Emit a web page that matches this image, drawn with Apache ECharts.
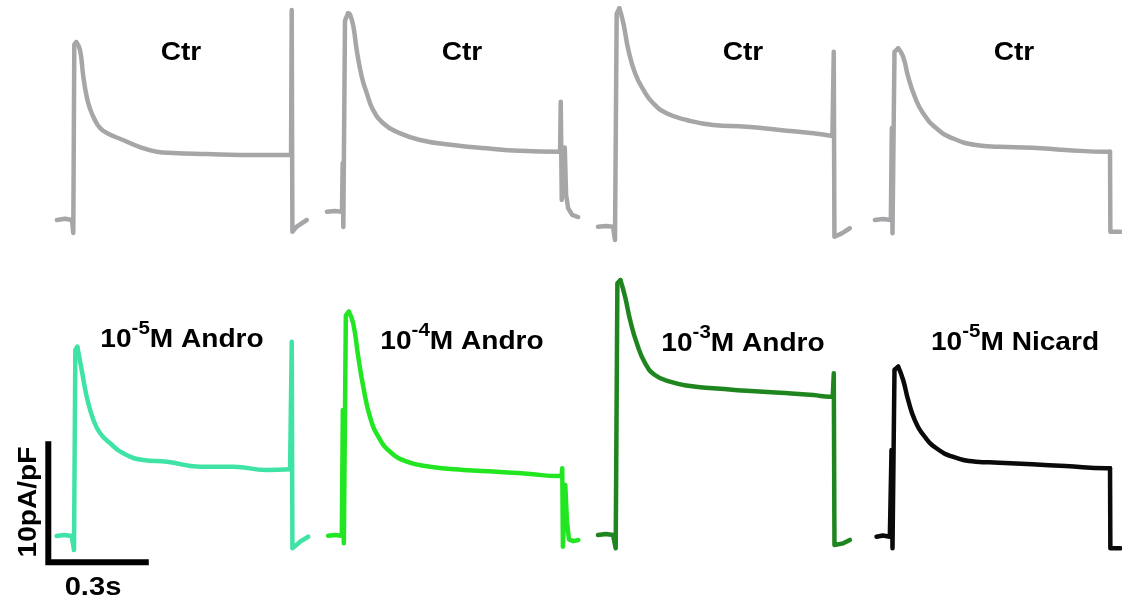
<!DOCTYPE html>
<html><head><meta charset="utf-8">
<script src="https://cdn.jsdelivr.net/npm/echarts@6/dist/echarts.min.js"></script>
<style>html,body{margin:0;padding:0;background:#fff}#c{width:1122px;height:600px}</style>
</head><body><div id="c"></div>
<script>
// ---- data: time (ms, from pulse onset) and current density (pA/pF, from holding level) ----
const ctr1 = [[-49,0],[-25,0.1],[-4,0],[0,-1.07],[3,14.5],[9,14.7],[20,14.05],[30,11.84],[40,10.19],[50,9.2],[62,8.4],[80,7.6],[100,7.19],[148,6.61],[199,6.03],[249,5.64],[298,5.54],[398,5.45],[498,5.37],[596,5.37],[650,5.37],[652,17.36],[654,-0.97],[667,-0.55],[697,0]];
const ctr2 = [[-51,0],[-27,0.06],[-6,0],[-4,4.02],[-2,-1.27],[3,15.8],[12,16.4],[18,16.3],[28,15.29],[38,13.36],[53,11.16],[68,9.79],[87,8.40],[117,7.31],[157,6.61],[227,5.93],[326,5.51],[426,5.24],[525,5.04],[645,4.96],[647,9.09],[650,0.97],[659,5.3],[663,1.38],[669,0.3],[681,-0.27],[699,-0.44]];
const ctr3 = [[-51,0],[-27,0.06],[-6,0],[0,-1.1],[5,17.6],[13,18.05],[25,16.81],[40,14.60],[60,12.68],[85,11.30],[114,10.20],[154,9.37],[214,8.82],[293,8.40],[393,8.26],[492,7.99],[592,7.72],[649,7.50],[653,14.46],[655,-0.83],[677,-0.55],[701,-0.13]];
const ctr4 = [[-55,0],[-31,0.08],[-7,0],[-4,7.6],[-2,-1.1],[4,13.9],[15,14.19],[30,13.50],[45,11.84],[65,10.19],[90,8.82],[130,7.58],[179,6.75],[249,6.20],[318,6.06],[418,5.98],[518,5.79],[647,5.64],[652,5.64],[653,-0.97],[683,-0.97]];
const andro5 = [[-52,0],[-30,0.08],[-7,0],[0,-1.16],[4,15.4],[10,15.64],[23,13.72],[38,11.51],[58,9.59],[78,8.49],[108,7.66],[147,6.83],[207,6.28],[277,6.14],[376,5.73],[476,5.73],[575,5.45],[645,5.51],[650,16.06],[652,-1.02],[675,-0.47],[699,-0.06]];
const andro4 = [[-49,0],[-28,0.06],[-8,0],[-5,10.39],[-2,-0.63],[4,18.2],[13,18.51],[26,17.55],[41,14.79],[56,12.31],[76,9.83],[101,8.18],[136,6.94],[186,6.12],[255,5.70],[355,5.43],[454,5.29],[554,5.10],[638,4.93],[648,4.93],[650,5.57],[652,-0.91],[659,4.2],[664,1.2],[670,-0.3],[683,-0.45],[698,-0.36]];
const andro3 = [[-53,0],[-29,0.08],[-8,0],[0,-1.1],[5,20.8],[14,21.07],[28,19.69],[43,17.77],[63,15.84],[88,14.19],[117,13.22],[162,12.67],[222,12.31],[291,12.12],[391,11.93],[490,11.76],[590,11.57],[639,11.43],[648,11.43],[651,13.36],[653,-0.83],[679,-0.69],[699,-0.41]];
const nicard = [[-50,0],[-31,0.1],[-10,0],[-5,7.17],[-2,-0.96],[4,13.8],[15,14.05],[30,12.95],[45,11.30],[65,9.64],[95,8.26],[130,7.31],[179,6.61],[249,6.20],[319,6.12],[418,5.98],[518,5.84],[642,5.65],[652,5.65],[653,-0.96],[683,-0.96]];
const TRACES = [ctr1, ctr2, ctr3, ctr4, andro5, andro4, andro3, nicard];
const LABELS = ['{b|Ctr}','{b|Ctr}','{b|Ctr}','{b|Ctr}','{b|10}{sup|-5}{b|M Andro}','{b|10}{sup|-4}{b|M Andro}','{b|10}{sup|-3}{b|M Andro}','{b|10}{sup|-5}{b|M Nicard}'];
const SCALE_BAR = [[0,10],[0,0],[300,0]];   // 10 pA/pF, 300 ms
const SCALE_Y_LABEL = '10pA/pF';
const SCALE_X_LABEL = '0.3s';

// ---- styles & layout ----
const COLORS = ['#a6a6a8','#a6a6a8','#a6a6a8','#a6a6a8','#40e3a6','#22e622','#1f861f','#0a0a0a'];
const ORIGINS = [[73.3,220],[344,211.7],[615,226.7],[893.3,220],[74,536],[344.5,535.7],[615.7,535],[893.3,536.7]];
const LABEL_POS = [[181,53],[462,53],[743,53],[1014,53],[182,340],[462,342],[743,344],[1015,343]];
const SCALE_ORIGIN = [48.3,562.3];
const PX_PER_MS = 0.335, PX_PER_PA = 12.1;
const FONT = '"Liberation Sans", Arial, sans-serif';

const grids = [], xAxes = [], yAxes = [], series = [];
function addGrid(data, origin) {
  const xs = data.map(d => d[0]), ys = data.map(d => d[1]);
  const x0 = Math.min(...xs) - 5, x1 = Math.max(...xs) + 5;
  const y0 = Math.min(...ys) - 0.3, y1 = Math.max(...ys) + 0.3;
  const i = grids.length;
  grids.push({left: origin[0] + x0 * PX_PER_MS, top: origin[1] - y1 * PX_PER_PA,
              width: (x1 - x0) * PX_PER_MS, height: (y1 - y0) * PX_PER_PA, containLabel: false});
  xAxes.push({type: 'value', gridIndex: i, min: x0, max: x1, show: false});
  yAxes.push({type: 'value', gridIndex: i, min: y0, max: y1, show: false});
  return i;
}
function addLine(i, data, color, width, smooth, join, cap) {
  series.push({type: 'line', xAxisIndex: i, yAxisIndex: i, data: data, symbol: 'none', showSymbol: false,
               clip: false, silent: true, animation: false, smooth: smooth,
               lineStyle: {color: color, width: width, join: join, cap: cap}});
}
TRACES.forEach((d, k) => {
  const i = addGrid(d, ORIGINS[k]);
  // split: onset (polyline) | decay from peak (smoothed) | pulse-end transients (polyline)
  let peak = 0;
  d.forEach((p, j) => { if (p[0] < 100 && p[1] > d[peak][1]) peak = j; });
  let end = d.length - 1;
  for (let j = peak; j < d.length - 1; j++) {
    if (d[j][0] > 600 && Math.abs(d[j + 1][1] - d[j][1]) > 0.5) { end = j; break; }
  }
  addLine(i, d.slice(0, peak + 1), COLORS[k], 4.5, false, 'round', 'round');
  addLine(i, d.slice(peak, end + 1), COLORS[k], 4.5, 0.5, 'round', 'round');
  addLine(i, d.slice(end), COLORS[k], 4.5, false, 'round', 'round');
});
addLine(addGrid(SCALE_BAR, SCALE_ORIGIN), SCALE_BAR, '#000', 6, false, 'miter', 'butt');

const rich = {
  b: {font: 'bold 26px ' + FONT, fill: '#000', lineHeight: 30, verticalAlign: 'middle'},
  sup: {font: 'bold 19px ' + FONT, fill: '#000', padding: [0, 0, 22, 0], verticalAlign: 'middle'}
};
const graphics = LABELS.map((t, k) => ({
  type: 'text', x: LABEL_POS[k][0], y: LABEL_POS[k][1], scaleX: 1.08, silent: true,
  style: {text: t, rich: rich, align: 'center', verticalAlign: 'middle', font: 'bold 26px ' + FONT, fill: '#000'}
}));
graphics.push({type: 'text', x: 29, y: 502, rotation: Math.PI / 2, scaleX: 1.08, silent: true,
  style: {text: SCALE_Y_LABEL, align: 'center', verticalAlign: 'middle', font: 'bold 26px ' + FONT, fill: '#000'}});
graphics.push({type: 'text', x: 93, y: 588, scaleX: 1.12, silent: true,
  style: {text: SCALE_X_LABEL, align: 'center', verticalAlign: 'middle', font: 'bold 26px ' + FONT, fill: '#000'}});

const chart = echarts.init(document.getElementById('c'), null, {renderer: 'canvas'});
chart.setOption({
  animation: false,
  backgroundColor: '#fff',
  grid: grids, xAxis: xAxes, yAxis: yAxes, series: series,
  graphic: graphics
});
</script></body></html>
